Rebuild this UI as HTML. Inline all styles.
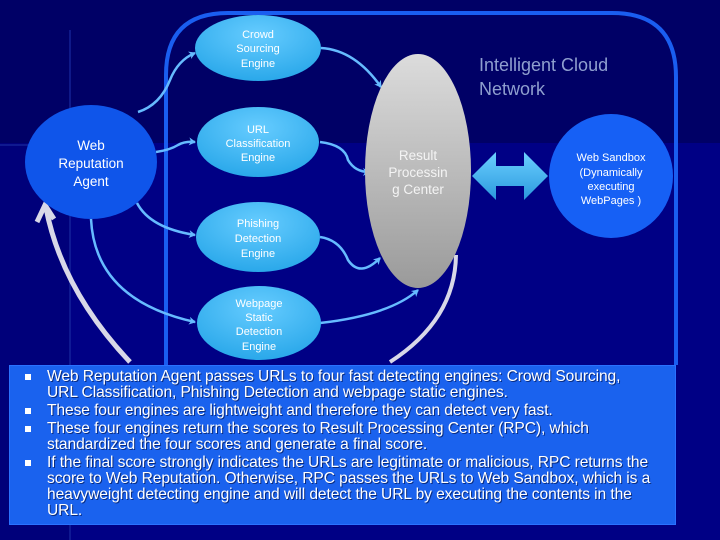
<!DOCTYPE html>
<html><head><meta charset="utf-8"><style>
html,body{margin:0;padding:0;width:720px;height:540px;overflow:hidden;background:#000066}
svg{position:absolute;left:0;top:0}
.box{position:absolute;left:9px;top:365px;width:667px;height:160px;background:#1a62ee;border:1px solid #2a72ff;box-sizing:border-box;font-family:"Liberation Sans",sans-serif;font-size:15.6px;line-height:16px;color:#fff;letter-spacing:-0.1px;text-shadow:1px 1px 0 #0a2c80}
.box ul{margin:0;padding:3px 0 0 37px;list-style:none;width:605px}
.box li{position:relative;margin-bottom:2px}
.box li:before{content:"";position:absolute;left:-22px;top:5px;width:6px;height:6px;background:#fff}
</style></head><body>
<svg width="720" height="540" viewBox="0 0 720 540" font-family="Liberation Sans, sans-serif">
<defs>
<radialGradient id="eng" cx="50%" cy="30%" r="70%"><stop offset="0" stop-color="#66ccff"/><stop offset="1" stop-color="#2aa8ea"/></radialGradient>
<linearGradient id="rpc" x1="0" y1="0" x2="0" y2="1"><stop offset="0" stop-color="#dcdcdc"/><stop offset="1" stop-color="#9a9a9a"/></linearGradient>
<linearGradient id="dbl" x1="0" y1="0" x2="0" y2="1"><stop offset="0" stop-color="#6cd0ff"/><stop offset="1" stop-color="#2a98dd"/></linearGradient>
<marker id="ah" markerWidth="8" markerHeight="8" refX="6" refY="4" orient="auto" markerUnits="userSpaceOnUse"><path d="M0,0 L7,4 L0,8 L2,4z" fill="#66bbff"/></marker>
</defs>
<rect x="70" y="143" width="650" height="397" fill="#000085"/>
<rect x="0" y="143" width="70" height="397" fill="#00007a"/>
<line x1="70" y1="30" x2="70" y2="540" stroke="#1a2aa0" stroke-width="2" opacity="0.6"/>
<line x1="0" y1="145" x2="30" y2="145" stroke="#1a2aa0" stroke-width="2" opacity="0.6"/>
<path d="M166,365 V75 Q166,13 228,13 H612 Q676,13 676,77 V365" fill="none" stroke="#1a5ef0" stroke-width="4"/>
<text x="479" y="71" font-size="18" fill="#8f9fcf">Intelligent Cloud</text>
<text x="479" y="95" font-size="18" fill="#8f9fcf">Network</text>
<g fill="none" stroke="#66bbff" stroke-width="2.5">
<path d="M138,112 Q160,105 170,80 Q178,60 195,53" marker-end="url(#ah)"/>
<path d="M156,152 Q170,150 178,145 Q185,141 195,142" marker-end="url(#ah)"/>
<path d="M137,203 Q150,228 195,235" marker-end="url(#ah)"/>
<path d="M91,219 Q95,300 195,322" marker-end="url(#ah)"/>
<path d="M321,48 Q355,50 381,87" marker-end="url(#ah)"/>
<path d="M320,142 Q345,145 348,160 Q355,172 369,172" marker-end="url(#ah)"/>
<path d="M320,237 Q340,240 348,260 Q360,278 380,258" marker-end="url(#ah)"/>
<path d="M320,323 Q390,315 418,290" marker-end="url(#ah)"/>
</g>
<path d="M130,362 Q62,290 46,208" fill="none" stroke="#d8d8e8" stroke-width="5"/>
<path d="M37,222 L45,205 L54,219" fill="none" stroke="#d8d8e8" stroke-width="5"/>
<path d="M456,255 Q455,320 390,362" fill="none" stroke="#d8d8e8" stroke-width="4"/>
<ellipse cx="258" cy="48" rx="63" ry="33" fill="url(#eng)"/>
<ellipse cx="258" cy="142" rx="61" ry="35" fill="url(#eng)"/>
<ellipse cx="258" cy="237" rx="62" ry="35" fill="url(#eng)"/>
<ellipse cx="259" cy="323" rx="62" ry="37" fill="url(#eng)"/>
<ellipse cx="91" cy="162" rx="66" ry="57" fill="#0f55ea"/>
<ellipse cx="418" cy="171" rx="53" ry="117" fill="url(#rpc)"/>
<circle cx="611" cy="176" r="62" fill="#1660f5"/>
<path d="M472,176 L496,152 V166 H524 V152 L548,176 L524,200 V186 H496 V200z" fill="url(#dbl)"/>
<g fill="#fff" font-size="11" text-anchor="middle">
<text x="258" y="38">Crowd</text><text x="258" y="52">Sourcing</text><text x="258" y="67">Engine</text>
<text x="258" y="133">URL</text><text x="258" y="147">Classification</text><text x="258" y="161">Engine</text>
<text x="258" y="227">Phishing</text><text x="258" y="242">Detection</text><text x="258" y="257">Engine</text>
<text x="259" y="307">Webpage</text><text x="259" y="321">Static</text><text x="259" y="335">Detection</text><text x="259" y="350">Engine</text>
<text x="611" y="161">Web Sandbox</text><text x="611" y="176">(Dynamically</text><text x="611" y="190">executing</text><text x="611" y="204">WebPages )</text>
</g>
<g fill="#fff" font-size="13.5" text-anchor="middle">
<text x="91" y="150">Web</text><text x="91" y="168">Reputation</text><text x="91" y="186">Agent</text>
<text x="418" y="160" fill="#f4f4f4">Result</text><text x="418" y="177" fill="#f4f4f4">Processin</text><text x="418" y="194" fill="#f4f4f4">g Center</text>
</g>
</svg>
<div class="box"><ul>
<li>Web Reputation Agent passes URLs to four fast detecting engines: Crowd Sourcing, URL Classification, Phishing Detection and webpage static engines.</li>
<li>These four engines are lightweight and therefore they can detect very fast.</li>
<li>These four engines return the scores to Result Processing Center (RPC), which standardized the four scores and generate a final score.</li>
<li>If the final score strongly indicates the URLs are legitimate or malicious, RPC returns the score to Web Reputation. Otherwise, RPC passes the URLs to Web Sandbox, which is a heavyweight detecting engine and will detect the URL by executing the contents in the URL.</li>
</ul></div>
</body></html>
